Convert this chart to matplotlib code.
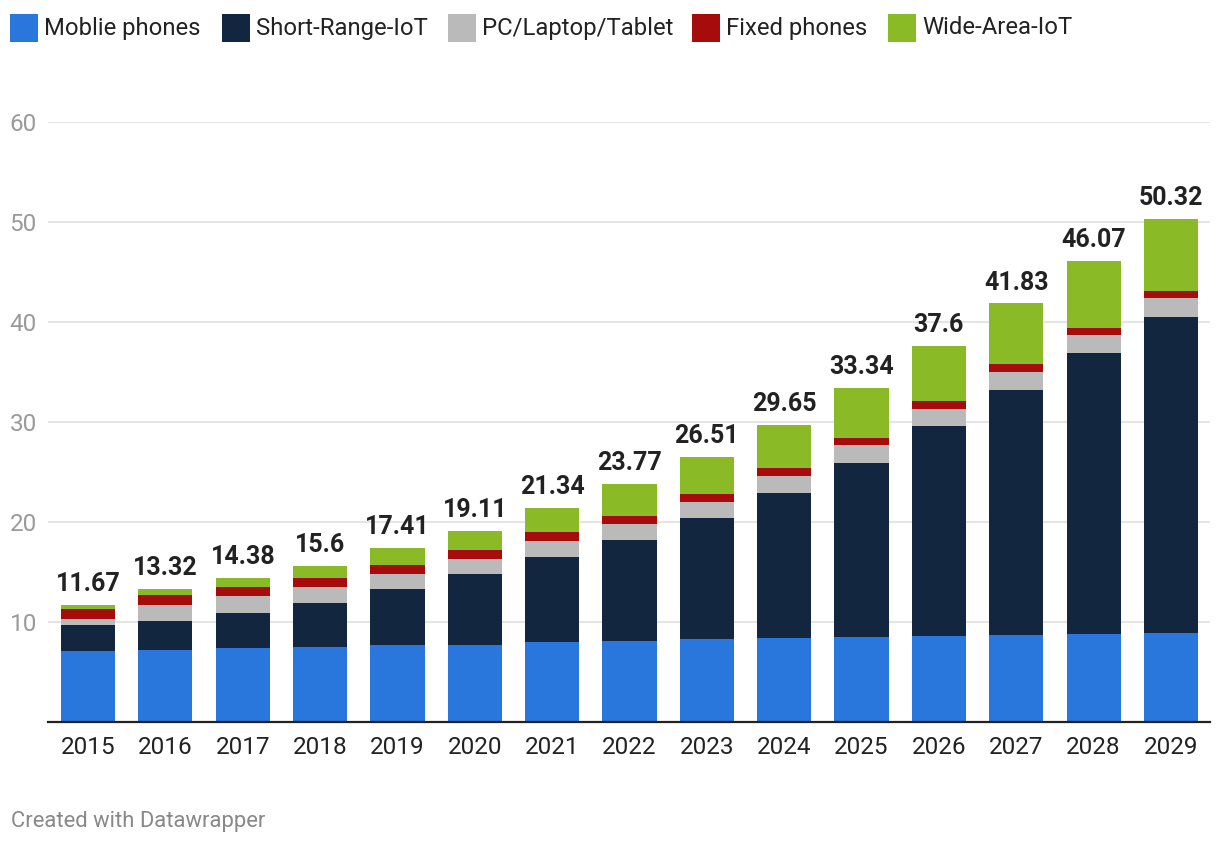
import matplotlib
matplotlib.use("Agg")
import matplotlib.pyplot as plt
from matplotlib.patches import Rectangle
import numpy as np

plt.rcParams['font.family'] = ['Roboto', 'DejaVu Sans']

years = ['2015', '2016', '2017', '2018', '2019', '2020', '2021', '2022',
         '2023', '2024', '2025', '2026', '2027', '2028', '2029']
totals = [11.67, 13.32, 14.38, 15.6, 17.41, 19.11, 21.34, 23.77,
          26.51, 29.65, 33.34, 37.6, 41.83, 46.07, 50.32]
mobile = [7.1, 7.2, 7.37, 7.47, 7.67, 7.67, 7.97, 8.07, 8.27, 8.37, 8.47, 8.58, 8.68, 8.78, 8.89]
short_iot = [2.57, 2.87, 3.5, 4.4, 5.6, 7.1, 8.5, 10.1, 12.1, 14.5, 17.4, 20.98, 24.5, 28.08, 31.58]
pc = [0.6, 1.6, 1.7, 1.6, 1.5, 1.5, 1.6, 1.6, 1.6, 1.7, 1.8, 1.72, 1.79, 1.82, 1.89]
fixed = [1.0, 1.0, 0.9, 0.9, 0.9, 0.9, 0.9, 0.8, 0.8, 0.8, 0.7, 0.78, 0.81, 0.68, 0.71]
# wide-area IoT = remainder up to the stated total
wide_iot = [round(t - (m + s + p + f), 2) for t, m, s, p, f in zip(totals, mobile, short_iot, pc, fixed)]

series_names = ['Moblie phones', 'Short-Range-IoT', 'PC/Laptop/Tablet', 'Fixed phones', 'Wide-Area-IoT']
series_values = [mobile, short_iot, pc, fixed, wide_iot]
colors = ['#2976dd', '#12273f', '#bababa', '#a60c0c', '#8abb26']
y_ticks = [10, 20, 30, 40, 50, 60]

W, H = 1220, 844
fig = plt.figure(figsize=(W / 100, H / 100), dpi=100)
ax_left, ax_right, ax_top, ax_bottom = 48, 1210, 121.7, 721.7
ax = fig.add_axes([ax_left / W, 1 - ax_bottom / H, (ax_right - ax_left) / W, (ax_bottom - ax_top) / H])

x = np.arange(len(years))
bw = 0.70
bottom = np.zeros(len(years))
for name, vals, c in zip(series_names, series_values, colors):
    v = np.array(vals)
    ax.bar(x, v, bw, bottom=bottom, color=c, label=name, zorder=3, linewidth=0)
    bottom += v

for xi, t in zip(x, totals):
    ax.annotate(f"{t:g}", (xi, t), xytext=(0, 10), textcoords='offset points',
                ha='center', va='baseline', fontsize=18, fontweight='bold', color='#222222')

ax.set_ylim(0, 60)
ax.set_xlim(-0.35 - 13 / 77.36, 14.35 + 12 / 77.36)
ax.set_yticks(y_ticks)
ax.set_yticklabels([str(t) for t in y_ticks])
ax.set_xticks(x)
ax.set_xticklabels(years)
ax.tick_params(axis='y', length=0, pad=8, labelsize=17.5, labelcolor='#9a9a9a')
ax.tick_params(axis='x', length=0, pad=10.5, labelsize=17.5, labelcolor='#222222')
ax.yaxis.grid(True, color='#e5e5e5', linewidth=1.5, zorder=0)
ax.set_axisbelow(True)
for s in ax.spines.values():
    s.set_visible(False)
ax.axhline(0, color='#222222', linewidth=1.6, zorder=4, clip_on=False)

# legend
sq_x = [10, 222, 448, 692, 888]
for sx, name, c in zip(sq_x, series_names, colors):
    fig.patches.append(Rectangle((sx / W, 1 - 41.7 / H), 27.7 / W, 27.7 / H,
                                 transform=fig.transFigure, color=c, linewidth=0))
    fig.text((sx + 34) / W, 1 - 28 / H, name, fontsize=17.2, color='#222222',
             ha='left', va='center')

fig.text(11 / W, 1 - 826.7 / H, 'Created with Datawrapper', fontsize=15.8,
         color='#888888', ha='left', va='baseline')

fig.savefig('out.png', dpi=100)
